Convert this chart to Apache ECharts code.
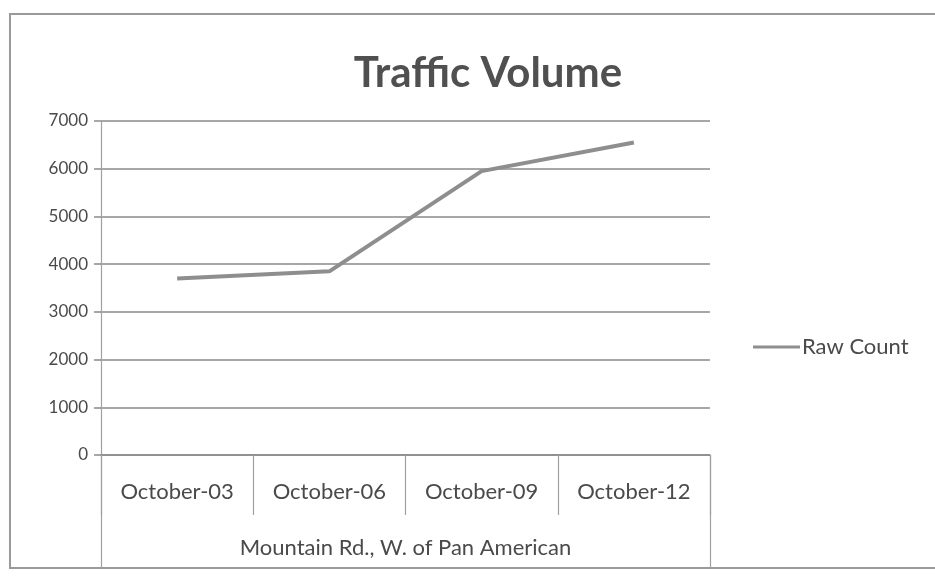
<!DOCTYPE html>
<html lang="en">
<head>
    <meta charset="UTF-8">
    <title>Traffic Volume</title>
    <script src="https://cdn.jsdelivr.net/npm/echarts@6/dist/echarts.min.js"></script>
</head>
<body style="margin: 0; background: #fff;">
<div id="container" style="width: 935px; height: 579px;"></div>
<script type="text/javascript">

    // chart data
    let categories = ['October-03', 'October-06', 'October-09', 'October-12'];
    let groupLabel = ['Mountain Rd., W. of Pan American'];
    let rawCount = [3700, 3850, 5950, 6550];
    let yTicks = [0, 1000, 2000, 3000, 4000, 5000, 6000, 7000];

    let font = 'Lato, "Open Sans", sans-serif';
    let textColor = '#4a4a4a';
    let gridColor = '#8a8a8a';

    let myChart = echarts.init(document.getElementById('container'));

    let option = {
        backgroundColor: '#fff',
        title: {
            text: 'Traffic Volume',
            left: 483,
            top: 47,
            textAlign: 'center',
            textStyle: {fontFamily: font, fontSize: 42, fontWeight: 'bold', color: '#505050'}
        },
        legend: {
            data: ['Raw Count'],
            left: 748,
            top: 331,
            icon: 'rect',
            itemWidth: 47,
            itemHeight: 3,
            textStyle: {fontFamily: font, fontSize: 22, color: textColor, padding: [0, 0, 0, -3]}
        },
        grid: {left: 101, right: 225, top: 121, bottom: 124},
        xAxis: [{
            type: 'category',
            data: categories,
            position: 'bottom',
            boundaryGap: true,
            axisLine: {lineStyle: {color: gridColor, width: 1.5}},
            axisTick: {show: true, length: 60, lineStyle: {color: '#a0a0a0', width: 1.2}},
            axisLabel: {margin: 26, fontFamily: font, fontSize: 22, color: textColor}
        }, {
            type: 'category',
            data: groupLabel,
            position: 'bottom',
            boundaryGap: true,
            axisLine: {show: false},
            axisTick: {show: true, length: 113, lineStyle: {color: '#a0a0a0', width: 1.2}},
            axisLabel: {margin: 82, fontFamily: font, fontSize: 22, color: textColor}
        }],
        yAxis: {
            type: 'value',
            min: yTicks[0],
            max: yTicks[yTicks.length - 1],
            interval: 1000,
            axisLine: {show: true, lineStyle: {color: '#a0a0a0', width: 1.2}},
            axisTick: {show: true, length: 7, lineStyle: {color: gridColor, width: 1.5}},
            splitLine: {show: true, lineStyle: {color: gridColor, width: 1.5}},
            axisLabel: {
                margin: 13, fontFamily: font, fontSize: 17, color: textColor,
                formatter: function (v) { return String(v); }
            }
        },
        series: [{
            name: 'Raw Count',
            type: 'line',
            data: rawCount,
            symbol: 'none',
            lineStyle: {color: '#8e8e8e', width: 4},
            itemStyle: {color: '#8e8e8e'}
        }],
        graphic: [{
            type: 'rect',
            shape: {x: 10, y: 14, width: 940, height: 554},
            style: {fill: 'none', stroke: '#9a9a9a', lineWidth: 2},
            silent: true
        }]
    };
    myChart.setOption(option, true);

</script>
</body>
</html>
